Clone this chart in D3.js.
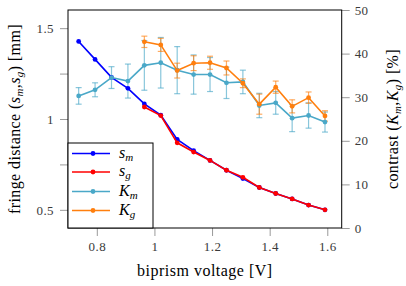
<!DOCTYPE html>
<html>
<head>
<meta charset="utf-8">
<script src="https://cdn.jsdelivr.net/npm/d3@7"></script>
<style>
  body { margin: 0; background: #fff; }
  svg text { font-family: "Liberation Serif", "DejaVu Serif", serif; }
</style>
</head>
<body>
<svg id="chart" width="406" height="286"></svg>
<script>
// biprism voltage [V]
var voltage = [0.737, 0.794, 0.851, 0.908, 0.965, 1.022, 1.079, 1.136,
               1.193, 1.250, 1.307, 1.364, 1.421, 1.478, 1.535, 1.592];
// fringe distance [mm]
var sM = [1.427, 1.328, 1.229, 1.169, 1.083, 1.021, 0.888, 0.826,
          0.772, 0.718, 0.672, 0.623, 0.590, 0.560, 0.526, 0.500];
var sG = [null, null, null, null, 1.066, 1.019, 0.869, 0.818,
          0.772, 0.718, 0.679, 0.623, 0.590, 0.560, 0.526, 0.500];
// contrast [%] and its error
var kM = [30.3, 31.7, 34.5, 33.7, 37.3, 37.9, 36.2, 35.2,
          35.2, 33.3, 33.5, 28.1, 28.7, 25.2, 25.8, 24.3];
var kMErr = [1.9, 1.6, 2.5, 3.9, 5.7, 5.8, 5.4, 4.5,
             3.9, 3.6, 2.7, 2.8, 2.6, 3.1, 2.9, 2.3];
var kG = [null, null, null, null, 42.7, 42.0, 36.1, 37.8,
          37.9, 36.7, 33.2, 28.4, 32.3, 27.9, 29.9, 25.7];
var kGErr = [null, null, null, null, 1.3, 1.5, 1.7, 1.7,
             1.5, 1.6, 1.0, 2.3, 1.4, 1.5, 1.3, 1.2];

var xTicks = [0.8, 1.0, 1.2, 1.4, 1.6];
var yLeftTicks = [0.5, 0.75, 1, 1.25, 1.5];
var yRightTicks = [0, 10, 20, 30, 40, 50];

var svg = d3.select("#chart");
var pLeft = 68, pRight = 341.7, pTop = 10, pBottom = 228;

var x = d3.scaleLinear().domain([0.7, 1.65]).range([pLeft, pRight]);
var yL = d3.scaleLinear().domain([0.4, 1.6]).range([pBottom, pTop]);
var yR = d3.scaleLinear().domain([0, 50]).range([pBottom, pTop]);

function pts(ys, errs) {
    var out = [];
    for (var i = 0; i < voltage.length; i++) {
        if (ys[i] === null) continue;
        out.push({x: voltage[i], y: ys[i], e: errs ? errs[i] : 0});
    }
    return out;
}

var series = [
    {name: "s", sub: "m", data: pts(sM), scale: yL, color: "#0000ff"},
    {name: "s", sub: "g", data: pts(sG), scale: yL, color: "#ff0000"},
    {name: "K", sub: "m", data: pts(kM, kMErr), scale: yR, color: "#4aa8c8", err: true},
    {name: "K", sub: "g", data: pts(kG, kGErr), scale: yR, color: "#ff7f0e", err: true}
];

// axes
var tickCol = "#9a9a9a";
var labCol = "#3a3a3a";

var xAxis = svg.append("g")
    .attr("transform", "translate(0," + pBottom + ")")
    .call(d3.axisBottom(x).tickValues(xTicks).tickSize(8).tickPadding(6)
        .tickFormat(function(d) { return d === 1 ? "1" : d3.format(".1f")(d); }));

var yAxisL = svg.append("g")
    .attr("transform", "translate(" + pLeft + ",0)")
    .call(d3.axisLeft(yL).tickValues(yLeftTicks).tickSize(8).tickPadding(6)
        .tickFormat(function(d) { return d === 0.5 || d === 1.5 ? d3.format(".1f")(d) : d === 1 ? "1" : ""; }));

var yAxisR = svg.append("g")
    .attr("transform", "translate(" + pRight + ",0)")
    .call(d3.axisRight(yR).tickValues(yRightTicks).tickSize(8).tickPadding(5));

[xAxis, yAxisL, yAxisR].forEach(function(a) {
    a.select(".domain").remove();
    a.selectAll(".tick line").attr("stroke", tickCol);
    a.selectAll(".tick text").attr("fill", labCol)
        .style("font-family", "'Liberation Serif', serif").style("font-size", "13px")
        .style("letter-spacing", "0.4px");
});

// frame
svg.append("rect")
    .attr("x", pLeft).attr("y", pTop)
    .attr("width", pRight - pLeft).attr("height", pBottom - pTop)
    .attr("fill", "none").attr("stroke", "#000").attr("stroke-width", 1);

// error bars
series.filter(function(s) { return s.err; }).forEach(function(s) {
    var g = svg.append("g").attr("stroke", s.color).attr("stroke-opacity", 0.65)
        .attr("stroke-width", 1.2).attr("fill", "none");
    s.data.forEach(function(d) {
        var cx = x(d.x), y0 = s.scale(d.y - d.e), y1 = s.scale(d.y + d.e);
        g.append("line").attr("x1", cx).attr("x2", cx).attr("y1", y0).attr("y2", y1);
        g.append("line").attr("x1", cx - 3).attr("x2", cx + 3).attr("y1", y0).attr("y2", y0);
        g.append("line").attr("x1", cx - 3).attr("x2", cx + 3).attr("y1", y1).attr("y2", y1);
    });
});

// lines and markers
series.forEach(function(s) {
    var line = d3.line()
        .x(function(d) { return x(d.x); })
        .y(function(d) { return s.scale(d.y); });
    svg.append("path").datum(s.data)
        .attr("d", line).attr("fill", "none")
        .attr("stroke", s.color).attr("stroke-width", 1.6);
    svg.append("g").selectAll("circle").data(s.data).enter().append("circle")
        .attr("cx", function(d) { return x(d.x); })
        .attr("cy", function(d) { return s.scale(d.y); })
        .attr("r", 2.4).attr("fill", s.color);
});

// legend
var lg = svg.append("g");
lg.append("rect").attr("x", pLeft).attr("y", 143).attr("width", 85).attr("height", pBottom - 143)
    .attr("fill", "#fff").attr("stroke", "#000").attr("stroke-width", 1);
var legY = [153.5, 172, 191.5, 210.5];
series.forEach(function(s, i) {
    lg.append("line").attr("x1", 72).attr("x2", 110).attr("y1", legY[i]).attr("y2", legY[i])
        .attr("stroke", s.color).attr("stroke-width", 1.6);
    lg.append("circle").attr("cx", 93).attr("cy", legY[i]).attr("r", 2.4).attr("fill", s.color);
    var t = lg.append("text").attr("x", 119).attr("y", legY[i] + 4)
        .style("font-size", "16px").style("font-style", "italic");
    t.append("tspan").text(s.name);
    t.append("tspan").attr("dy", 3).style("font-size", "11px").text(s.sub);
});

// axis titles
svg.append("text").attr("x", (pLeft + pRight) / 2).attr("y", 276)
    .attr("text-anchor", "middle").style("font-size", "16px").style("letter-spacing", "0.5px")
    .text("biprism voltage [V]");

function axisTitle(xPos, pre, a, b, post) {
    var t = svg.append("text")
        .attr("transform", "translate(" + xPos + "," + (pTop + pBottom) / 2 + ") rotate(-90)")
        .attr("text-anchor", "middle").style("font-size", "16px").style("letter-spacing", "0.4px");
    t.append("tspan").text(pre + "(");
    t.append("tspan").style("font-style", "italic").text(a[0]);
    t.append("tspan").attr("dy", 2.5).style("font-size", "11px").style("font-style", "italic").text(a[1]);
    t.append("tspan").attr("dy", -2.5).text(",");
    t.append("tspan").style("font-style", "italic").text(b[0]);
    t.append("tspan").attr("dy", 2.5).style("font-size", "11px").style("font-style", "italic").text(b[1]);
    t.append("tspan").attr("dy", -2.5).text(") " + post);
}
axisTitle(20, "fringe distance ", "sm", "sg", "[mm]");
axisTitle(398, "contrast ", "Km", "Kg", "[%]");
</script>
</body>
</html>
